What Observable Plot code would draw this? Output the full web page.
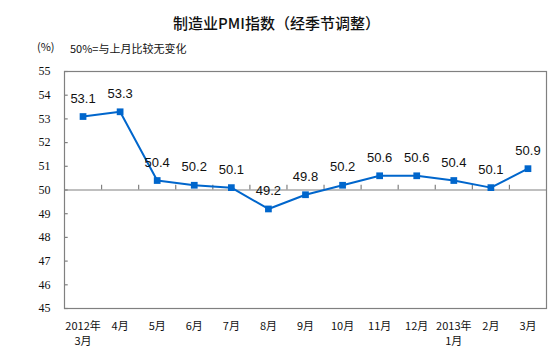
<!DOCTYPE html>
<html>
<head>
<meta charset="utf-8">
<script src="https://cdn.jsdelivr.net/npm/d3@7"></script>
<script src="https://cdn.jsdelivr.net/npm/@observablehq/plot@0.6"></script>
<style>
  body { margin: 0; background: #fff; }
  #chart { position: relative; width: 553px; height: 364px; }
  .title { position: absolute; left: 0; width: 553px; top: 12px; text-align: center;
    font-family: "Noto Sans CJK SC", sans-serif; font-size: 15px; font-weight: 500; color: #111; }
  .unit { position: absolute; left: 37px; top: 38px; font-family: "Noto Sans CJK SC", sans-serif; font-size: 11px; color: #111; }
  .note { position: absolute; left: 70px; top: 40px; font-family: "Noto Sans CJK SC", sans-serif; font-size: 11px; color: #111; }
  svg { position: absolute; left: 0; top: 0; }
</style>
</head>
<body>
<div id="chart">
  <div class="title">制造业PMI指数（经季节调整）</div>
  <div class="unit">(%)</div>
  <div class="note">50%=与上月比较无变化</div>
</div>
<script>
const categories = ["2012年\n3月", "4月", "5月", "6月", "7月", "8月", "9月", "10月", "11月", "12月", "2013年\n1月", "2月", "3月"];
const pmi = [53.1, 53.3, 50.4, 50.2, 50.1, 49.2, 49.8, 50.2, 50.6, 50.6, 50.4, 50.1, 50.9];
const yTicks = [45, 46, 47, 48, 49, 50, 51, 52, 53, 54, 55];
const baseline = 50;

const data = categories.map((c, i) => {
  const parts = c.split("\n");
  return {i, line1: parts[0], line2: parts[1] || "", value: pmi[i]};
});
const boundaries = d3.range(0.5, categories.length - 0.5, 1);
const blue = "#0066cc";
const grey = "#808080";
const labelFont = {fontFamily: "Noto Sans CJK SC, sans-serif", fontSize: 11, fill: "#111", frameAnchor: "bottom", lineAnchor: "middle"};

const chart = Plot.plot({
  width: 553,
  height: 364,
  marginLeft: 64,
  marginRight: 7,
  marginTop: 71,
  marginBottom: 56,
  x: {domain: [-0.5, categories.length - 0.5], axis: null},
  y: {domain: [45, 55], axis: null},
  style: {background: "transparent"},
  marks: [
    Plot.ruleY([baseline], {stroke: grey, strokeWidth: 1.2}),
    Plot.ruleX(boundaries, {y1: baseline, y2: baseline + 0.2, stroke: grey, strokeWidth: 1.2}),
    Plot.ruleY(yTicks, {x1: -0.5, x2: -0.4, stroke: grey, strokeWidth: 1.2}),
    Plot.frame({stroke: grey, strokeWidth: 1.2}),
    Plot.text(yTicks, {x: -0.5, y: d => d, text: d => String(d), textAnchor: "end", dx: -14,
      fontFamily: "Liberation Serif, serif", fontSize: 12, fill: "#111"}),
    Plot.text(data, {x: "i", text: "line1", dy: 18, ...labelFont}),
    Plot.text(data, {x: "i", text: "line2", dy: 33, ...labelFont}),
    Plot.line(data, {x: "i", y: "value", stroke: blue, strokeWidth: 2}),
    Plot.dot(data, {x: "i", y: "value", symbol: "square", r: 3.8, fill: blue, stroke: "none"}),
    Plot.text(data, {x: "i", y: "value", text: d => d.value.toFixed(1), dy: -18,
      fontFamily: "Liberation Sans, Arial, sans-serif", fontSize: 13, fill: "#111"})
  ]
});
document.getElementById("chart").appendChild(chart);
</script>
</body>
</html>
